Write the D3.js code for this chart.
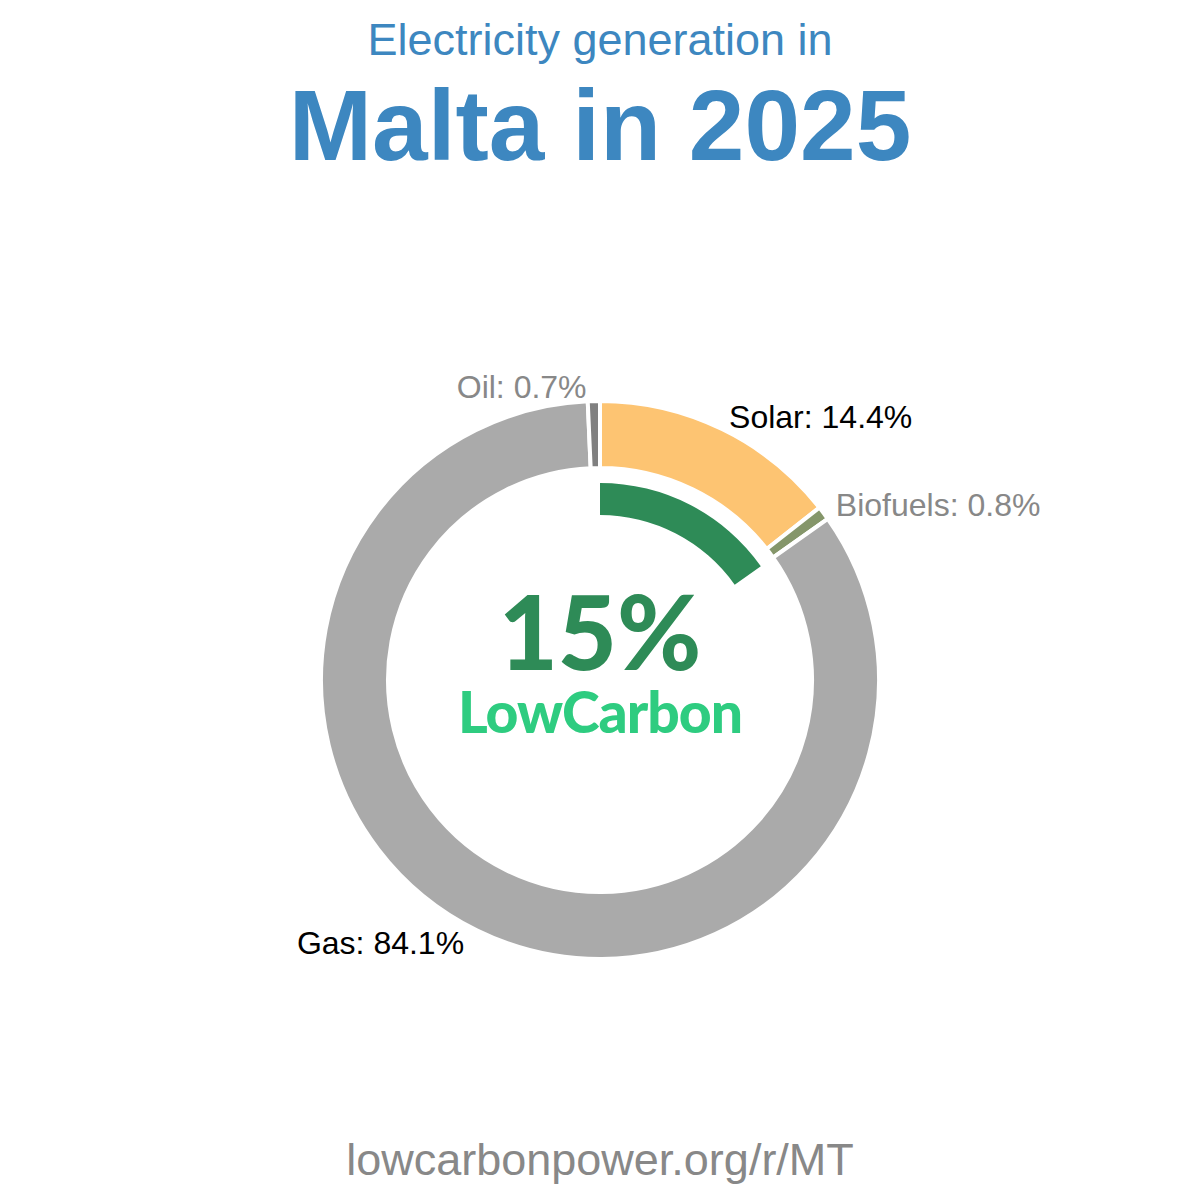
<!DOCTYPE html>
<html>
<head>
<meta charset="utf-8">
<script src="https://cdn.jsdelivr.net/npm/d3@7"></script>
<style>
  body { margin: 0; background: #fff; }
  svg { display: block; }
</style>
</head>
<body>
<div id="wrapper"></div>
<script>
// data
const sources = ["Solar", "Biofuels", "Gas", "Oil"]
const shares = [14.4, 0.8, 84.1, 0.7]
const sliceColors = ["#fdc472", "#85966a", "#aaaaaa", "#808080"]
const labelColors = ["#000000", "#888888", "#000000", "#888888"]
const lowCarbonShare = 15.2
const lowCarbonLabel = "15%"

const width = 1200
const height = 1200
const cx = 600
const cy = 680
const outerR = 279
const innerR = 212

const svg = d3.select('#wrapper')
  .append('svg')
  .attr('width', width)
  .attr('height', height)

// titles
svg.append('text')
  .attr('x', width / 2)
  .attr('y', 55)
  .attr('text-anchor', 'middle')
  .attr('fill', '#3d87c0')
  .style('font-family', '"Liberation Sans", Arial, sans-serif')
  .style('font-size', '45px')
  .text('Electricity generation in')

svg.append('text')
  .attr('x', width / 2)
  .attr('y', 160)
  .attr('text-anchor', 'middle')
  .attr('fill', '#3d87c0')
  .style('font-family', '"Liberation Sans", Arial, sans-serif')
  .style('font-weight', 'bold')
  .style('font-size', '100px')
  .text('Malta in 2025')

const bounds = svg.append('g')
  .attr('transform', `translate(${cx}, ${cy})`)

const data = sources.map((s, i) => ({ source: s, value: shares[i], color: sliceColors[i], labelColor: labelColors[i] }))

const pie = d3.pie().sort(null).value(d => d.value)
const arcs = pie(data)

const arcGen = d3.arc().innerRadius(innerR).outerRadius(outerR)

bounds.selectAll('path.slice')
  .data(arcs)
  .enter().append('path')
  .attr('class', 'slice')
  .attr('d', arcGen)
  .attr('fill', d => d.data.color)
  .attr('stroke', '#fff')
  .attr('stroke-width', 4)

// low carbon inner arc
const total = d3.sum(shares)
const lcArc = d3.arc()
  .innerRadius(165)
  .outerRadius(197)
  .startAngle(0)
  .endAngle(2 * Math.PI * lowCarbonShare / total)

bounds.append('path')
  .attr('d', lcArc)
  .attr('fill', '#2e8b57')

// labels
const labelR = 293
bounds.selectAll('text.label')
  .data(arcs)
  .enter().append('text')
  .attr('class', 'label')
  .attr('x', d => {
    const a = (d.startAngle + d.endAngle) / 2
    const x = labelR * Math.sin(a)
    return x >= 0 ? x + 1 : x - 7
  })
  .attr('y', d => {
    const a = (d.startAngle + d.endAngle) / 2
    return -labelR * Math.cos(a)
  })
  .attr('dy', '0.35em')
  .attr('text-anchor', d => Math.sin((d.startAngle + d.endAngle) / 2) >= 0 ? 'start' : 'end')
  .attr('fill', d => d.data.labelColor)
  .style('font-family', '"Liberation Sans", Arial, sans-serif')
  .style('font-size', '32px')
  .text(d => `${d.data.source}: ${d.data.value}%`)

// center text
bounds.append('text')
  .attr('x', 0)
  .attr('y', -10)
  .attr('text-anchor', 'middle')
  .attr('fill', '#2e8b57')
  .style('font-family', 'Lato, sans-serif')
  .style('font-weight', 900)
  .style('font-size', '102px')
  .text(lowCarbonLabel)

bounds.append('text')
  .attr('x', 0)
  .attr('y', 53)
  .attr('text-anchor', 'middle')
  .attr('fill', '#2ecc80')
  .style('font-family', 'Lato, sans-serif')
  .style('font-weight', 900)
  .style('font-size', '57px')
  .style('letter-spacing', '-1px')
  .text('LowCarbon')

// footer
svg.append('text')
  .attr('x', width / 2)
  .attr('y', 1175)
  .attr('text-anchor', 'middle')
  .attr('fill', '#888888')
  .style('font-family', '"Liberation Sans", Arial, sans-serif')
  .style('font-size', '45px')
  .text('lowcarbonpower.org/r/MT')
</script>
</body>
</html>
